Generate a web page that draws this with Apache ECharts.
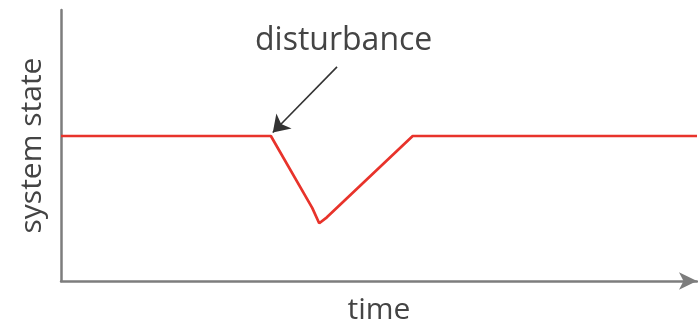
<!DOCTYPE html>
<html><head><meta charset="utf-8">
<script src="https://cdn.jsdelivr.net/npm/echarts@6/dist/echarts.min.js"></script>
<style>html,body{margin:0;padding:0;background:#fff}#c{width:698px;height:329px}</style>
</head><body><div id="c"></div>
<script>
// time (arbitrary units 0-100) and system state (0-100)
const timeValues = [0, 33, 39.5, 40.6, 41.8, 55.3, 100];
const stateValues = [53.5, 53.5, 27, 21.3, 23.5, 53.5, 53.5];
const annotationText = 'disturbance';
const arrowFrom = [43.4, 79];
const arrowTo = [33.3, 54.8];

const chart = echarts.init(document.getElementById('c'));
const font = '"Open Sans", Lato, sans-serif';
chart.setOption({
  animation: false,
  grid: {left: 61, right: 1, top: 10, bottom: 48, outerBoundsMode: 'none', containLabel: false},
  xAxis: {
    type: 'value', min: 0, max: 100,
    name: 'time', nameLocation: 'middle', nameGap: 14,
    nameTextStyle: {fontSize: 30, color: '#444', fontFamily: font},
    axisLine: {show: true, symbol: ['none', 'arrow'], symbolSize: [13, 18], symbolOffset: [0, 0],
      lineStyle: {color: '#7d7d7d', width: 2.5}},
    axisTick: {show: false}, axisLabel: {show: false}, splitLine: {show: false}
  },
  yAxis: {
    type: 'value', min: 0, max: 100,
    name: 'system state', nameLocation: 'middle', nameGap: 14, nameRotate: 90,
    nameTextStyle: {fontSize: 30, color: '#444', fontFamily: font},
    axisLine: {show: true, lineStyle: {color: '#7d7d7d', width: 2.5}},
    axisTick: {show: false}, axisLabel: {show: false}, splitLine: {show: false}
  },
  series: [{
    type: 'line',
    data: timeValues.map((t, i) => [t, stateValues[i]]),
    symbol: 'none',
    lineStyle: {color: '#e8332b', width: 2.7},
    markLine: {
      silent: true, symbol: ['none', 'arrow'], symbolSize: 16,
      label: {show: false},
      lineStyle: {color: '#333', width: 1.6, type: 'solid'},
      data: [[{coord: arrowFrom}, {coord: arrowTo}]]
    }
  }],
  graphic: [{
    type: 'text', left: 255, top: 25,
    style: {text: annotationText, fontSize: 32, fill: '#444', fontFamily: font}
  }]
});
</script></body></html>
